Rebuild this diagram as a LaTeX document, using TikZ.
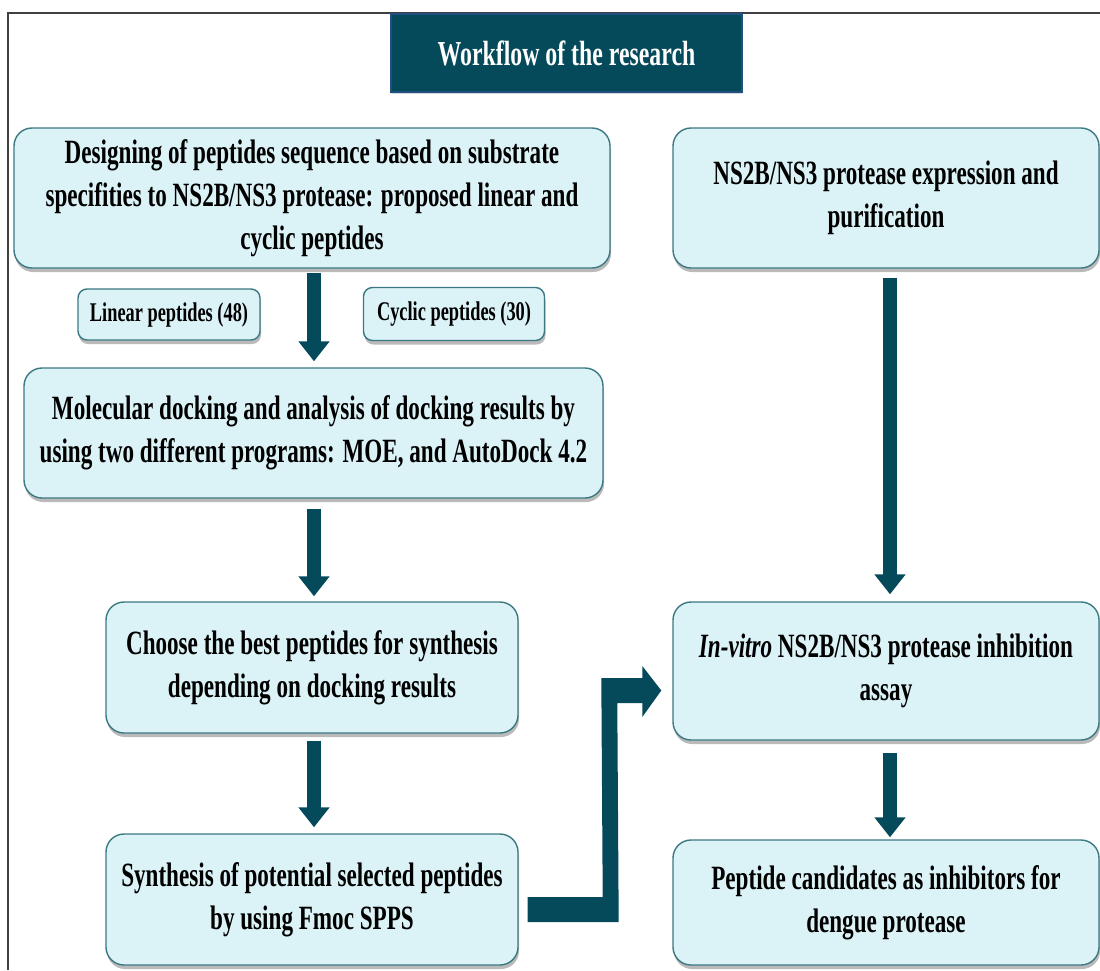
\documentclass[tikz,border=0pt]{standalone}
\usepackage{fontspec}
\setmainfont{Liberation Serif}[FakeStretch=0.68]
\usetikzlibrary{shadows,arrows.meta,calc}
\definecolor{boxfill}{RGB}{219,243,247}
\definecolor{boxline}{RGB}{60,120,130}
\definecolor{teal}{RGB}{5,74,90}
\definecolor{titleline}{RGB}{30,80,130}
\tikzset{
  stepbox/.style={draw=boxline, line width=1.4pt, fill=boxfill, rounded corners=18pt,
    drop shadow={shadow xshift=1pt, shadow yshift=-4pt, opacity=0.45, fill=black!60},
    align=center, inner sep=0pt, font=\bfseries\fontsize{34}{43}\selectfont},
  smallbox/.style={stepbox, rounded corners=9pt, font=\bfseries\fontsize{27}{32}\selectfont},
  titlebox/.style={fill=teal, draw=titleline, line width=1.5pt, text=white, align=center,
    drop shadow={shadow xshift=0pt, shadow yshift=-2pt, opacity=0.3},
    font=\bfseries\fontsize{35}{40}\selectfont, inner sep=0pt},
  downarrow/.style={draw=teal, line width=14pt, -{Triangle[width=30pt,length=20pt]}},
  elbowarrow/.style={fill=teal},
  frame/.style={draw=black!75, line width=1.2pt}
}
\begin{document}
\begin{tikzpicture}[x=1pt,y=-1pt]
\useasboundingbox (0,0) rectangle (1100,970);
\coordinate (ftl) at (8,13);
\coordinate (ftr) at (1100,13);
\coordinate (fbl) at (8,970);
\draw[frame] (ftr) -- (ftl) -- (fbl);

\node[titlebox, minimum width=351pt, minimum height=78pt] (title) at (566.5,53) {Workflow of the research};

\node[stepbox, minimum width=596pt, minimum height=140pt] (b1) at (312,198)
  {Designing of peptides sequence based on substrate\\specifities to NS2B/NS3 protease: proposed linear and\\cyclic peptides};
\node[smallbox, minimum width=182pt, minimum height=51pt] (lin) at (169,314.5) {Linear peptides (48)};
\node[smallbox, minimum width=181pt, minimum height=53pt] (cyc) at (454,314) {Cyclic peptides (30)};
\node[stepbox, minimum width=579pt, minimum height=130pt] (b2) at (313.5,433)
  {Molecular docking and analysis of docking results by\\using two different programs: MOE, and AutoDock 4.2};
\node[stepbox, minimum width=412pt, minimum height=131pt] (b3) at (312,667.5)
  {Choose the best peptides for synthesis\\depending on docking results};
\node[stepbox, minimum width=412pt, minimum height=131pt] (b4) at (312,899.5)
  {Synthesis of potential selected peptides\\by using Fmoc SPPS};

\node[stepbox, minimum width=426pt, minimum height=140pt] (r1) at (886,198)
  {NS2B/NS3 protease expression and\\purification};
\node[stepbox, minimum width=426pt, minimum height=138pt] (r2) at (886,671)
  {\textit{In-vitro} NS2B/NS3 protease inhibition\\assay};
\node[stepbox, minimum width=426pt, minimum height=125pt] (r3) at (886,902.5)
  {Peptide candidates as inhibitors for\\dengue protease};

\draw[downarrow] ([xshift=2pt,yshift=-4pt]b1.south) -- ([xshift=2pt,yshift=6pt]b1.south |- b2.north);
\draw[downarrow] ([xshift=2pt,yshift=-10pt]b1.south |- b2.south) -- ([xshift=2pt,yshift=5pt]b1.south |- b3.north);
\draw[downarrow] ([xshift=2pt,yshift=-7pt]b1.south |- b3.south) -- ([xshift=2pt,yshift=6pt]b1.south |- b4.north);
\draw[downarrow] ([xshift=4pt,yshift=-9pt]r1.south) -- ([xshift=4pt,yshift=7pt]r2.north);
\draw[downarrow] ([xshift=4pt,yshift=-12pt]r2.south) -- ([xshift=4pt,yshift=2pt]r3.north);

\coordinate (es) at ([xshift=9pt,yshift=-10pt]b4.east);
\coordinate (et) at ([xshift=-11pt,yshift=-19.5pt]r2.west);
\fill[elbowarrow] ($(es)+(0,12.5)$) -- ($(es)+(91,12.5)$) -- ($(et)+(-44,12.5)$)
  -- ($(et)+(-19,12.5)$) -- ($(et)+(-19,26.5)$) -- (et) -- ($(et)+(-19,-24.5)$)
  -- ($(et)+(-19,-12.5)$) -- ($(et)+(-60,-12.5)$) -- ($(es)+(75,-12.5)$)
  -- ($(es)+(0,-12.5)$) -- cycle;
\end{tikzpicture}
\end{document}
